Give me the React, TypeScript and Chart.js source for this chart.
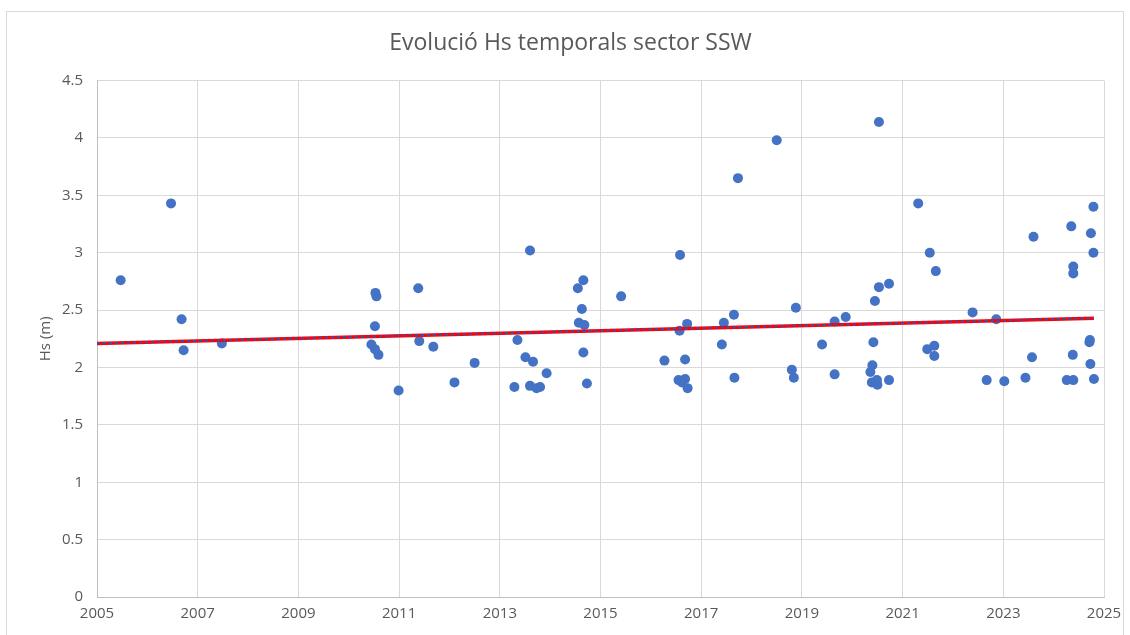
import React, { useEffect, useRef } from "react";
import { Chart, registerables } from "chart.js";

Chart.register(...registerables);

const TITLE = "Evolució Hs temporals sector SSW";
const Y_TITLE = "Hs (m)";

const years = [
  2005.47, 2006.47, 2006.68, 2006.72, 2007.48,
  2010.45, 2010.52, 2010.52, 2010.53, 2010.55, 2010.59, 2010.99,
  2011.38, 2011.40, 2011.68, 2012.10, 2012.50,
  2013.29, 2013.35, 2013.51, 2013.60, 2013.60, 2013.66, 2013.73, 2013.80, 2013.93,
  2014.55, 2014.57, 2014.63, 2014.66, 2014.66, 2014.68, 2014.73, 2015.41,
  2016.27, 2016.55, 2016.57, 2016.58, 2016.62, 2016.68, 2016.68, 2016.72, 2016.73,
  2017.41, 2017.45, 2017.65, 2017.66, 2017.73, 2018.50,
  2018.80, 2018.84, 2018.88, 2019.40, 2019.65, 2019.65, 2019.87,
  2020.36, 2020.39, 2020.40, 2020.42, 2020.45, 2020.49, 2020.50, 2020.53, 2020.53, 2020.73, 2020.73,
  2021.31, 2021.49, 2021.54, 2021.63, 2021.63, 2021.66,
  2022.39, 2022.67, 2022.86, 2023.02, 2023.44, 2023.57, 2023.60,
  2024.26, 2024.35, 2024.38, 2024.39, 2024.39, 2024.39,
  2024.71, 2024.72, 2024.73, 2024.74, 2024.79, 2024.79, 2024.80,
];

const hs = [
  2.76, 3.43, 2.42, 2.15, 2.21,
  2.20, 2.16, 2.36, 2.65, 2.62, 2.11, 1.80,
  2.69, 2.23, 2.18, 1.87, 2.04,
  1.83, 2.24, 2.09, 3.02, 1.84, 2.05, 1.82, 1.83, 1.95,
  2.69, 2.39, 2.51, 2.76, 2.13, 2.37, 1.86, 2.62,
  2.06, 1.89, 2.32, 2.98, 1.87, 2.07, 1.90, 2.38, 1.82,
  2.20, 2.39, 2.46, 1.91, 3.65, 3.98,
  1.98, 1.91, 2.52, 2.20, 2.40, 1.94, 2.44,
  1.96, 1.87, 2.02, 2.22, 2.58, 1.89, 1.85, 2.70, 4.14, 2.73, 1.89,
  3.43, 2.16, 3.00, 2.19, 2.10, 2.84,
  2.48, 1.89, 2.42, 1.88, 1.91, 2.09, 3.14,
  1.89, 3.23, 2.11, 2.88, 2.82, 1.89,
  2.22, 2.24, 2.03, 3.17, 3.40, 3.00, 1.90,
];

const trendYears = [2005, 2024.8];
const trendHs = [2.21, 2.43];

const X_MIN = 2005;
const X_MAX = 2025;
const X_STEP = 2;
const Y_MIN = 0;
const Y_MAX = 4.5;
const Y_STEP = 0.5;

const TEXT = "#595959";
const GRID = "#d9d9d9";
const BLUE = "#4472C4";
const RED = "#FF0000";
const FONT = "'Open Sans', 'Noto Sans', sans-serif";

export default function App() {
  const ref = useRef<HTMLCanvasElement>(null);

  useEffect(() => {
    if (!ref.current) return;
    const points = years.map((x, i) => ({ x, y: hs[i] }));
    const trend = trendYears.map((x, i) => ({ x, y: trendHs[i] }));
    const chart = new Chart(ref.current, {
      type: "scatter",
      data: {
        datasets: [
          {
            label: "trend-dots",
            data: trend,
            showLine: true,
            borderColor: "#3a4fb0",
            borderWidth: 2,
            borderDash: [3, 3],
            pointRadius: 0,
            fill: false,
          },
          {
            label: "trend",
            data: trend,
            showLine: true,
            borderColor: RED,
            borderWidth: 3.5,
            pointRadius: 0,
            fill: false,
          },
          {
            label: "Hs",
            data: points,
            backgroundColor: BLUE,
            borderColor: BLUE,
            borderWidth: 0,
            pointRadius: 5,
            pointHoverRadius: 5,
          },
        ],
      },
      options: {
        responsive: false,
        animation: false,
        events: [],
        layout: { padding: { left: 30, right: 18, top: 0, bottom: 0 } },
        plugins: {
          legend: { display: false },
          tooltip: { enabled: false },
          title: {
            display: true,
            text: TITLE,
            color: TEXT,
            font: { family: FONT, size: 23, weight: "normal" },
            padding: { top: 18, bottom: 23 },
          },
        },
        scales: {
          x: {
            type: "linear",
            min: X_MIN,
            max: X_MAX,
            ticks: {
              stepSize: X_STEP,
              callback: (v: any) => String(v),
              color: TEXT,
              font: { family: FONT, size: 15 },
              padding: 8,
              maxRotation: 0,
            },
            grid: { color: GRID, drawTicks: false },
            border: { color: "#bfbfbf" },
            afterFit: (s: any) => {
              s.height = 38;
              s.paddingRight = 0;
              s.paddingLeft = 0;
            },
          },
          y: {
            type: "linear",
            min: Y_MIN,
            max: Y_MAX,
            ticks: {
              stepSize: Y_STEP,
              callback: (v: any) => String(v),
              color: TEXT,
              font: { family: FONT, size: 15 },
              padding: 14,
            },
            grid: { color: GRID, drawTicks: false },
            border: { color: "#bfbfbf" },
            title: {
              display: true,
              text: Y_TITLE,
              color: TEXT,
              font: { family: FONT, size: 15 },
              padding: 0,
            },
            afterFit: (s: any) => {
              s.width = 60;
            },
          },
        },
      },
    } as any);
    return () => chart.destroy();
  }, []);

  return (
    <div style={{ position: "fixed", left: 0, top: 0, width: 1130, height: 635, background: "#fff" }}>
      <div
        style={{
          position: "absolute",
          left: 6,
          top: 11,
          width: 1116,
          height: 640,
          border: "1px solid #d9d9d9",
        }}
      />
      <canvas
        ref={ref}
        width={1115}
        height={623}
        style={{ position: "absolute", left: 7, top: 12, width: 1115, height: 623 }}
      />
    </div>
  );
}
